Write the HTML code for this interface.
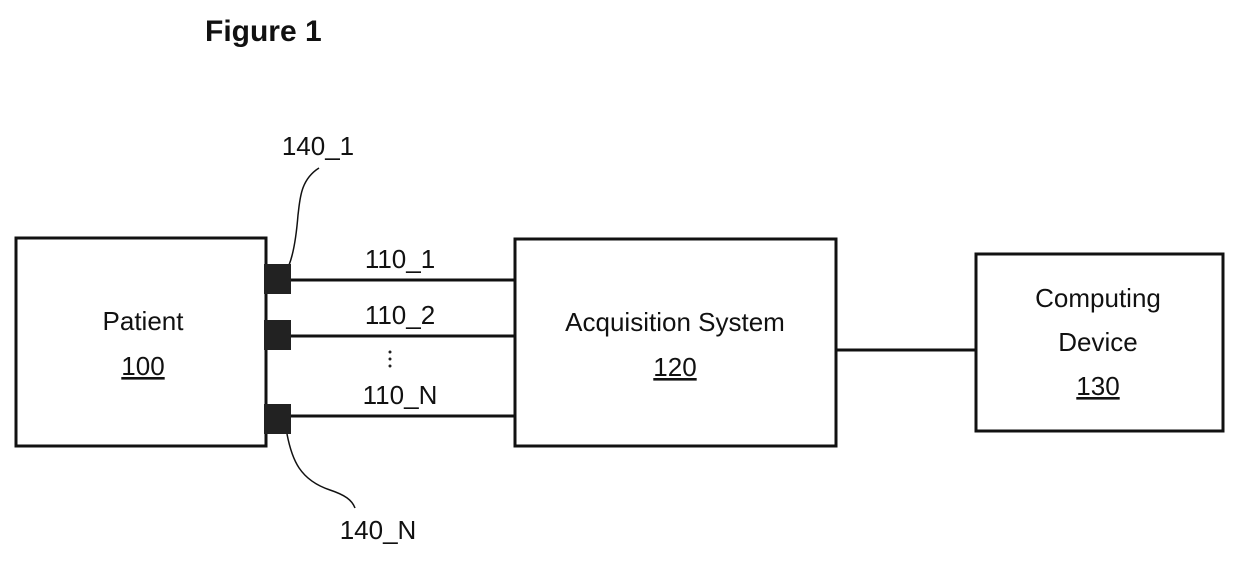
<!DOCTYPE html>
<html><head><style>
body{margin:0;background:#fff;}
svg text{font-family:"Liberation Sans",sans-serif;fill:#111;}
</style></head><body>
<svg width="1240" height="570" viewBox="0 0 1240 570" xmlns="http://www.w3.org/2000/svg">
<text x="205" y="41" font-size="30" font-weight="bold">Figure 1</text>
<g fill="none" stroke="#111" stroke-width="3">
<rect x="16" y="238" width="250" height="208"/>
<rect x="515" y="239" width="321" height="207"/>
<rect x="976" y="254" width="247" height="177"/>
<line x1="291" y1="280" x2="515" y2="280"/>
<line x1="291" y1="336" x2="515" y2="336"/>
<line x1="291" y1="416" x2="515" y2="416"/>
<line x1="836" y1="350" x2="976" y2="350"/>
<path d="M319 168 C300 180 300 200 298 215 C296 240 293 255 289 265" stroke-width="1.5"/>
<path d="M287 434 C292 460 300 480 330 490 C345 495 352 500 355 508" stroke-width="1.5"/>
</g>
<g fill="#222">
<rect x="264" y="264" width="27" height="30"/>
<rect x="264" y="320" width="27" height="30"/>
<rect x="264" y="404" width="27" height="30"/>
<circle cx="390" cy="352" r="1.5"/><circle cx="390" cy="359" r="1.5"/><circle cx="390" cy="366" r="1.5"/>
</g>
<g font-size="26" text-anchor="middle">
<text x="318" y="155">140_1</text>
<text x="378" y="539">140_N</text>
<text x="400" y="268">110_1</text>
<text x="400" y="324">110_2</text>
<text x="400" y="404">110_N</text>
<text x="143" y="330">Patient</text>
<text x="143" y="375" text-decoration="underline">100</text>
<text x="675" y="331">Acquisition System</text>
<text x="675" y="376" text-decoration="underline">120</text>
<text x="1098" y="307">Computing</text>
<text x="1098" y="351">Device</text>
<text x="1098" y="395" text-decoration="underline">130</text>
</g>
</svg>
</body></html>
